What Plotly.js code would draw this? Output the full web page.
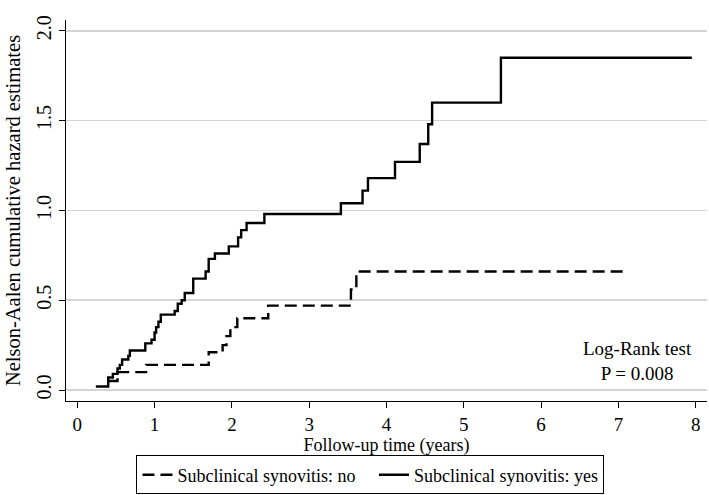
<!DOCTYPE html>
<html>
<head>
<meta charset="utf-8">
<script src="https://cdn.plot.ly/plotly-3.0.1.min.js"></script>
<style>html,body{margin:0;padding:0;background:#fff;}#chart{width:709px;height:495px;}</style>
</head>
<body>
<div id="chart"></div>
<script>
// Subclinical synovitis: yes (solid)
var yesTime = [0.24,0.40,0.46,0.52,0.55,0.58,0.66,0.68,0.88,0.96,1.00,1.02,1.05,1.08,1.26,1.30,1.35,1.39,1.50,1.66,1.70,1.78,1.96,2.08,2.12,2.19,2.42,3.41,3.69,3.76,4.11,4.43,4.54,4.59,5.48,7.95];
var yesHazard = [0.02,0.07,0.09,0.12,0.14,0.17,0.19,0.22,0.26,0.28,0.32,0.35,0.38,0.42,0.44,0.48,0.50,0.54,0.62,0.66,0.73,0.76,0.80,0.85,0.89,0.93,0.98,1.04,1.11,1.18,1.27,1.37,1.48,1.60,1.85,1.85];
// Subclinical synovitis: no (dashed)
var noTime = [0.40,0.52,0.89,1.70,1.88,1.93,1.98,2.07,2.47,3.54,3.61,7.07];
var noHazard = [0.05,0.10,0.14,0.21,0.25,0.30,0.35,0.40,0.47,0.56,0.66,0.66];
var xTicks = [0,1,2,3,4,5,6,7,8];
var yTicks = [0,0.5,1,1.5,2];
var yTickLabels = ["0.0","0.5","1.0","1.5","2.0"];
var seriesNames = ["Subclinical synovitis: no","Subclinical synovitis: yes"];

var font = "Liberation Serif, Times New Roman, serif";
var pad = "\u00a0\u00a0\u00a0";
var traces = [
  {x: noTime, y: noHazard, name: seriesNames[0] + pad, mode: "lines", line: {shape: "hv", color: "#000", width: 2.4, dash: "12px,6px"}},
  {x: yesTime, y: yesHazard, name: seriesNames[1], mode: "lines", line: {shape: "hv", color: "#000", width: 2.4}}
];
var layout = {
  width: 709, height: 495,
  margin: {l: 66, r: 2, t: 20, b: 93},
  paper_bgcolor: "#fff", plot_bgcolor: "#fff",
  font: {family: font, size: 18, color: "#000"},
  showlegend: true,
  legend: {orientation: "h", x: 0.475, xanchor: "center", y: -0.14, yanchor: "top",
    bordercolor: "#000", borderwidth: 1, bgcolor: "#fff", font: {family: font, size: 18}},
  xaxis: {range: [-0.146, 8.146], tickvals: xTicks, ticks: "outside", ticklen: 6, tickcolor: "#000",
    tickfont: {family: font, size: 19},
    showline: true, linecolor: "#000", linewidth: 1.3, showgrid: false, zeroline: false,
    title: {text: "Follow-up time (years)", font: {family: font, size: 18}, standoff: 1}},
  yaxis: {range: [-0.061, 2.06], tickvals: yTicks, ticktext: yTickLabels, tickangle: -90,
    tickfont: {family: font, size: 20},
    ticks: "outside", ticklen: 6, tickcolor: "#000",
    showline: true, linecolor: "#000", linewidth: 1.3, showgrid: true, gridcolor: "#d4d4d4", gridwidth: 1.5,
    zeroline: false,
    title: {text: "Nelson-Aalen cumulative hazard estimates", font: {family: font, size: 20.5}, standoff: 6}},
  annotations: [{x: 7.25, y: 0.16, xref: "x", yref: "y", showarrow: false,
    text: "Log-Rank test<br>P = 0.008", align: "center", font: {family: font, size: 19}}]
};
Plotly.newPlot("chart", traces, layout, {staticPlot: true, displayModeBar: false});
</script>
</body>
</html>
